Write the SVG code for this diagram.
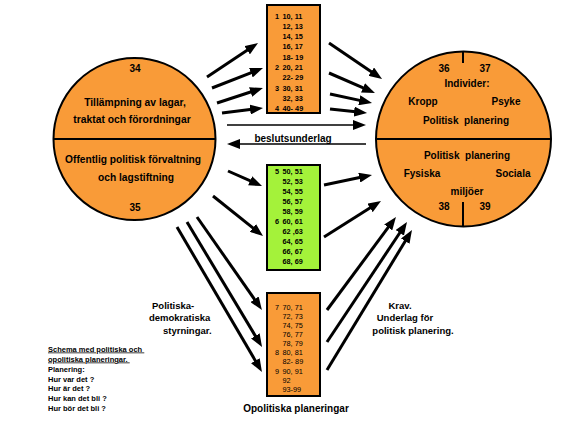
<svg xmlns="http://www.w3.org/2000/svg" width="571" height="428" viewBox="0 0 571 428">
<style>
text{font-family:"Liberation Sans",Arial,sans-serif;fill:#000}
.b{font-weight:bold}
.c10{font-size:10px;font-weight:bold;text-anchor:middle}
.n{font-size:7.3px;font-weight:bold}
.r{font-size:7.3px}
.circ{fill:#F99B38;stroke:#000;stroke-width:2}
.box{fill:#F99B38;stroke:#000;stroke-width:2}
.green{fill:#A4F23A;stroke:#000;stroke-width:2}
.div{stroke:#000;stroke-width:2}
.ar{stroke:#000;stroke-width:3;fill:none;marker-end:url(#ah)}
.thin{stroke:#000;stroke-width:1.5;fill:none;marker-end:url(#ah)}
.lab{font-size:9.5px;font-weight:bold}
.note{font-size:7.5px;font-weight:bold}
</style>
<defs>
<marker id="ah" viewBox="0 0 13 10" refX="4" refY="5" markerWidth="13" markerHeight="10" markerUnits="userSpaceOnUse" orient="auto">
<path d="M0,0 L13,5 L0,10 z" fill="#000"/>
</marker>
</defs>
<rect width="571" height="428" fill="#fff"/>

<g id="left-circle">
<circle class="circ" cx="134.5" cy="139" r="81"/>
<line class="div" x1="53.5" y1="139" x2="215.5" y2="139"/>
<text class="c10" x="135" y="71.5">34</text>
<text class="c10" x="135" y="105.5" style="font-size:10.3px">Tillämpning av lagar,</text>
<text class="c10" x="132" y="122.5" style="font-size:10.3px">traktat och förordningar</text>
<text class="c10" x="133" y="162.5" style="font-size:10.2px">Offentlig politisk förvaltning</text>
<text class="c10" x="136" y="180.5" style="font-size:10.2px">och lagstiftning</text>
<text class="c10" x="135" y="210.5">35</text>
</g>

<g id="right-circle">
<circle class="circ" cx="463.5" cy="139" r="87.5"/>
<line class="div" x1="376" y1="139" x2="551" y2="139"/>
<line class="div" x1="463" y1="51.5" x2="463" y2="63"/>
<line class="div" x1="463" y1="202" x2="463" y2="226.5"/>
<text class="c10" x="444" y="71.5">36</text>
<text class="c10" x="485" y="71.5">37</text>
<text class="c10" x="467" y="86.5">Individer:</text>
<text class="c10" x="423" y="104.5">Kropp</text>
<text class="c10" x="506" y="104.5">Psyke</text>
<text class="c10" x="466" y="123.5" xml:space="preserve">Politisk  planering</text>
<text class="c10" x="467" y="158.5" xml:space="preserve">Politisk  planering</text>
<text class="c10" x="422" y="176.5">Fysiska</text>
<text class="c10" x="513" y="176.5">Sociala</text>
<text class="c10" x="467" y="194.5">miljöer</text>
<text class="c10" x="444" y="209.5">38</text>
<text class="c10" x="485" y="209.5">39</text>
</g>

<g id="box-top">
<rect class="box" x="267" y="5" width="53" height="108"/>
<g class="n">
<text x="275" y="18.5">1</text><text x="282.5" y="18.5">10, 11</text>
<text x="282.5" y="28.8">12, 13</text>
<text x="282.5" y="39.1">14, 15</text>
<text x="282.5" y="49.4">16, 17</text>
<text x="282.5" y="59.7">18- 19</text>
<text x="275" y="70">2</text><text x="282.5" y="70">20, 21</text>
<text x="282.5" y="80.3">22- 29</text>
<text x="275" y="90.6">3</text><text x="282.5" y="90.6">30, 31</text>
<text x="282.5" y="100.9">32, 33</text>
<text x="275" y="111">4</text><text x="282.5" y="111">40- 49</text>
</g>
</g>

<g id="box-middle">
<rect class="green" x="267" y="165" width="53" height="105"/>
<g class="n">
<text x="275" y="173.5">5</text><text x="282.5" y="173.5">50, 51</text>
<text x="282.5" y="183.5">52, 53</text>
<text x="282.5" y="193.5">54, 55</text>
<text x="282.5" y="203.5">56, 57</text>
<text x="282.5" y="213.5">58, 59</text>
<text x="275" y="223.5">6</text><text x="282.5" y="223.5">60, 61</text>
<text x="282.5" y="233.5">62 ,63</text>
<text x="282.5" y="243.5">64, 65</text>
<text x="282.5" y="253.5">66, 67</text>
<text x="282.5" y="263.5">68, 69</text>
</g>
</g>

<g id="box-bottom">
<rect class="box" x="267" y="293" width="53" height="103"/>
<g class="r">
<text x="275" y="309.5">7</text><text x="282.5" y="309.5">70, 71</text>
<text x="282.5" y="318.7">72, 73</text>
<text x="282.5" y="327.8">74, 75</text>
<text x="282.5" y="337">76, 77</text>
<text x="282.5" y="346.1">78, 79</text>
<text x="275" y="355.3">8</text><text x="282.5" y="355.3">80, 81</text>
<text x="282.5" y="364.4">82- 89</text>
<text x="275" y="373.6">9</text><text x="282.5" y="373.6">90, 91</text>
<text x="282.5" y="382.7">92</text>
<text x="282.5" y="391.9">93-99</text>
</g>
<text class="c10" x="296" y="412">Opolitiska planeringar</text>
</g>

<g id="connectors">
<path class="ar" d="M207,77 L250.5,48"/>
<path class="ar" d="M212,88 L254.6,71.3"/>
<path class="ar" d="M217,103 L254.4,90.8"/>
<path class="ar" d="M222,113 L254.1,109.1"/>
<path class="ar" d="M329,43 L374.6,73.9"/>
<path class="ar" d="M329,73 L366.7,89.4"/>
<path class="ar" d="M330,94 L363.2,101.1"/>
<path class="ar" d="M330,109 L358.1,112"/>
<path class="ar" d="M228,171 L253.8,182.4"/>
<path class="ar" d="M213,196 L256,230.4"/>
<path class="ar" d="M324,185 L363.2,176.8"/>
<path class="ar" d="M324,237 L373.4,205.8"/>
<path class="ar" d="M197,217 L256.8,302.6"/>
<path class="ar" d="M187,222 L257.4,339.3"/>
<path class="ar" d="M177,227 L257.4,364.2"/>
<path class="ar" d="M327,310 L390.6,224.2"/>
<path class="ar" d="M327,342 L402,229.5"/>
<path class="ar" d="M327,370 L407.3,237.7"/>
<path class="thin" d="M227,125 L357,125"/>
<path class="thin" d="M366,144 L236,144"/>
</g>

<g id="labels">
<text class="c10" x="293" y="141.5">beslutsunderlag</text>
<text class="lab" x="152" y="308.5">Politiska-</text>
<text class="lab" x="149" y="321">demokratiska</text>
<text class="lab" x="163" y="333.5">styrningar.</text>
<text class="lab" x="400" y="308.5" text-anchor="middle">Krav.</text>
<text class="lab" x="405" y="321" text-anchor="middle">Underlag för</text>
<text class="lab" x="413" y="333.5" text-anchor="middle">politisk planering.</text>
<g class="note">
<text x="48" y="351.5" text-decoration="underline" xml:space="preserve">Schema med politiska och </text>
<text x="48" y="361.5" text-decoration="underline" xml:space="preserve">opolitiska planeringar. </text>
<text x="48" y="371.5">Planering:</text>
<text x="48" y="381.5">Hur var det ?</text>
<text x="48" y="391.3">Hur är det ?</text>
<text x="48" y="401">Hur kan det bli ?</text>
<text x="48" y="410.8">Hur bör det bli ?</text>
</g>
</g>
</svg>
